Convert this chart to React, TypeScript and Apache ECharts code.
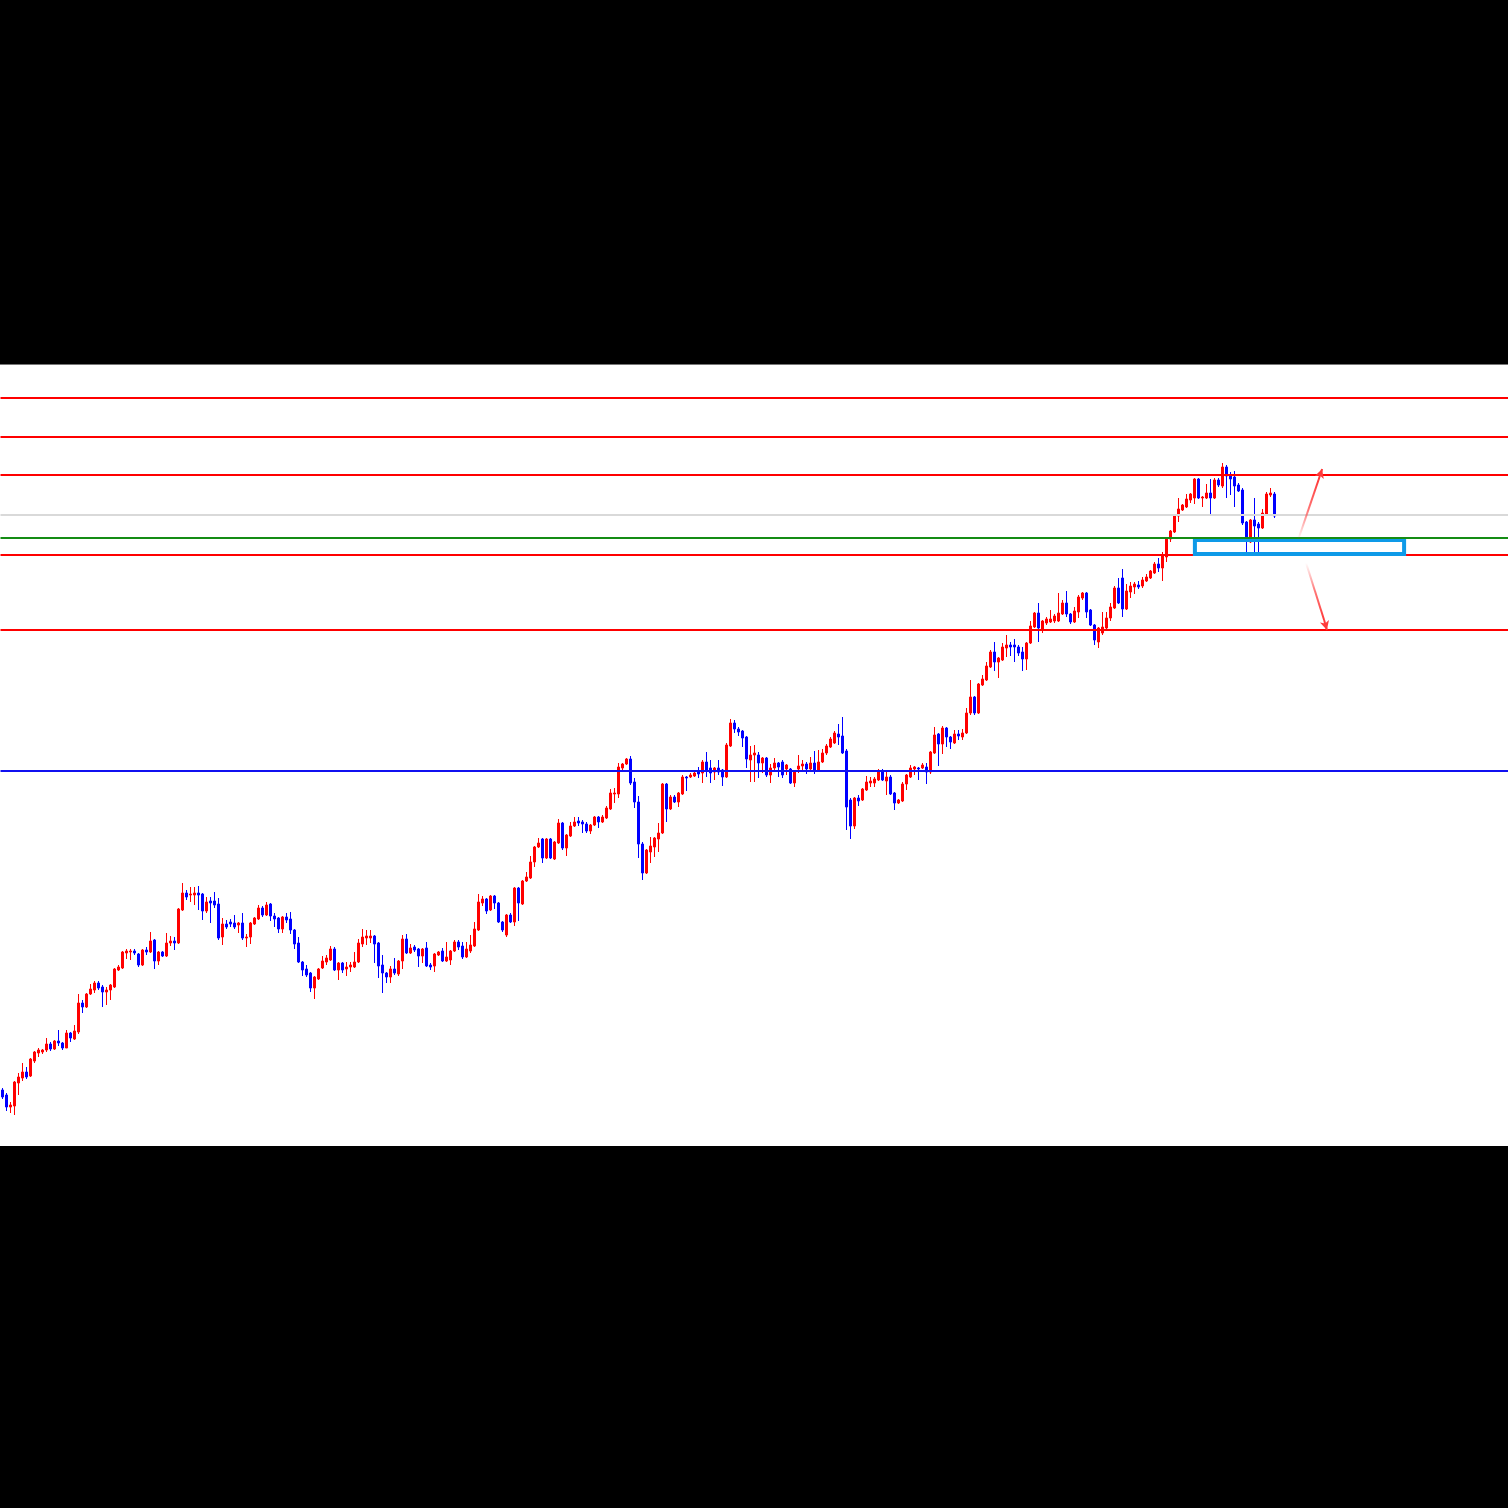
import React, { useEffect, useRef } from "react";
import * as echarts from "echarts";

// [open, close, low, high]
const ohlc: number[][] = [
  [110,103,101,112],[105,93,89,107],[93,95,87,98],[94,118,85,119],[117,123,105,127],[122,128,119,137],[128,123,121,133],[124,141,123,142],[139,148,137,149],[147,150,143,152],
  [148,150,146,151],[150,156,148,162],[156,151,149,158],[151,159,150,160],[159,157,154,170],[157,152,150,158],[152,167,152,170],[167,162,158,168],[161,169,160,175],[168,197,166,206],
  [197,193,187,200],[193,206,192,207],[206,211,205,216],[210,217,207,219],[217,212,210,219],[213,208,193,215],[208,210,195,213],[210,215,200,216],[213,231,212,232],[230,233,229,235],
  [232,248,231,249],[247,249,241,251],[248,249,240,251],[249,247,245,251],[246,235,233,247],[235,250,234,251],[250,248,245,253],[248,259,247,268],[260,239,231,261],[239,248,235,249],
  [248,244,243,249],[244,257,243,267],[257,259,254,264],[259,257,250,263],[257,291,256,292],[290,307,289,317],[307,303,300,310],[305,306,298,313],[305,307,295,313],[307,305,290,314],
  [306,289,280,307],[289,298,287,303],[299,297,277,303],[299,295,292,308],[296,262,260,302],[263,276,255,282],[276,273,271,280],[278,276,273,281],[277,273,271,285],[275,277,267,278],
  [277,262,260,287],[262,263,253,266],[263,277,256,278],[276,282,275,283],[281,292,280,295],[292,285,283,294],[285,295,284,298],[296,284,279,297],[284,281,273,287],[282,271,267,283],
  [271,283,267,284],[283,280,277,287],[281,270,266,288],[270,256,251,271],[257,238,237,263],[238,230,224,239],[231,225,223,235],[227,212,208,228],[212,223,201,224],[221,231,220,232],
  [232,239,231,244],[238,242,235,245],[240,251,239,254],[251,230,229,253],[230,237,220,238],[237,230,227,238],[231,233,224,238],[233,235,228,238],[233,238,232,248],[238,257,237,261],
  [256,263,253,271],[262,264,255,270],[262,264,257,270],[264,256,237,265],[257,234,222,258],[235,227,207,245],[227,223,217,228],[223,231,217,234],[231,227,225,242],[226,239,224,240],
  [239,261,231,265],[261,247,246,266],[247,252,246,256],[253,250,248,255],[251,244,233,252],[244,251,237,252],[252,234,233,258],[235,233,230,237],[234,246,228,247],[245,248,244,249],
  [249,239,238,252],[239,243,238,258],[240,249,235,250],[249,258,248,260],[258,253,250,260],[254,243,241,258],[243,251,242,258],[249,255,247,265],[254,271,253,278],[270,298,269,306],
  [297,301,294,304],[301,289,286,302],[290,304,289,305],[304,297,291,305],[297,278,277,298],[278,270,268,279],[265,285,263,286],[285,278,277,287],[278,312,274,313],[312,297,279,313],
  [296,319,295,320],[319,323,318,328],[322,338,321,344],[338,353,333,354],[353,357,352,362],[361,342,337,362],[342,361,341,362],[361,342,341,362],[341,358,340,359],[357,377,356,381],
  [377,352,350,378],[352,365,344,366],[364,374,363,378],[374,378,373,383],[379,377,374,383],[378,376,367,380],[376,369,367,378],[369,375,366,376],[375,383,374,384],[383,378,372,384],
  [378,383,377,385],[382,392,381,394],[391,407,390,411],[406,407,397,412],[406,433,402,437],[432,436,428,437],[436,441,435,442],[441,417,415,444],[418,398,392,422],[398,356,342,404],
  [356,327,320,358],[327,350,326,351],[348,354,337,363],[353,362,343,363],[361,367,348,377],[367,416,366,417],[416,391,378,417],[391,403,390,405],[403,398,397,405],[398,407,393,408],
  [406,423,405,425],[423,422,409,424],[423,425,422,427],[424,427,423,428],[429,426,422,433],[427,438,417,440],[438,429,423,448],[432,427,417,440],[428,432,420,433],[432,428,425,440],
  [430,423,414,431],[423,455,422,457],[454,477,453,481],[477,471,467,480],[471,468,464,473],[469,462,453,470],[463,441,432,464],[440,445,418,454],[445,447,418,455],[445,437,422,448],
  [437,442,427,443],[442,425,423,443],[425,432,417,436],[432,437,428,442],[437,433,423,438],[438,425,422,440],[431,435,425,436],[431,417,416,432],[417,428,413,429],[431,434,427,445],
  [434,436,428,440],[436,431,426,438],[431,437,428,443],[437,429,426,449],[429,438,428,450],[438,447,437,451],[447,454,445,456],[453,461,452,463],[457,467,456,469],[466,463,455,476],
  [464,447,446,483],[449,393,370,451],[400,374,361,402],[374,402,371,403],[402,399,394,405],[400,411,399,412],[410,418,409,424],[417,419,413,423],[417,421,413,423],[420,429,419,431],
  [429,420,419,431],[419,423,405,430],[423,406,405,425],[407,397,390,408],[397,400,396,401],[399,416,398,418],[416,425,410,426],[423,432,422,435],[431,433,425,434],[432,431,420,433],
  [432,435,431,437],[433,428,416,437],[428,448,426,449],[447,465,446,473],[466,456,434,467],[456,472,446,474],[472,463,453,473],[463,458,451,464],[457,466,456,470],[466,464,460,470],
  [463,467,460,471],[467,487,466,492],[487,503,485,520],[503,487,485,504],[487,516,486,517],[515,521,514,525],[520,534,519,538],[533,548,532,550],[548,538,529,558],[538,542,522,543],
  [540,553,539,557],[552,555,543,565],[555,553,544,558],[555,553,538,561],[553,547,544,555],[548,541,529,553],[541,557,530,558],[557,574,556,579],[573,587,572,588],[587,572,558,597],
  [571,579,567,580],[577,581,575,583],[578,581,577,590],[579,584,577,586],[579,587,578,607],[586,597,585,600],[597,586,583,609],[586,578,576,587],[578,589,577,593],[588,603,582,605],
  [602,607,600,608],[607,588,582,608],[590,575,574,591],[575,560,555,576],[558,572,552,573],[567,573,565,588],[572,582,571,588],[582,593,579,597],[592,612,591,614],[612,597,596,622],
  [622,591,583,631],[591,609,590,616],[608,614,602,618],[613,616,606,618],[615,613,611,619],[614,620,612,623],[619,623,618,626],[622,629,621,630],[627,636,626,638],[636,632,628,642],
  [632,645,619,648],[643,661,638,662],[661,669,658,670],[668,685,667,686],[684,691,678,702],[690,695,689,696],[693,701,692,706],[700,706,697,707],[702,721,696,722],[721,702,701,722],
  [702,703,693,704],[702,707,701,716],[707,702,685,721],[702,720,701,722],[720,715,713,722],[714,733,712,737],[733,724,702,735],[725,721,705,728],[723,714,693,729],[715,709,708,717],
  [710,677,675,712],[678,661,647,679],[658,680,657,681],[680,674,647,702],[676,672,647,678],[672,687,671,691],[686,706,686,708],[705,707,703,712],[706,684,682,708],
];

const slotCount = 377;
const categories = Array.from({ length: slotCount }, (_, i) => String(i + 1));
const yRange = [54, 835];

const redLevels = [802, 763, 725, 645, 570];
const grayLevel = 685;
const greenLevel = 662;
const blueLevel = 429;

// zone box corners on the slot axis
const zoneBox = [[298.6, 660], [350.9, 646]];
// arrows: start, fade end, tip
const arrowUp = [[324.4, 660], [329.5, 720], [330.4, 731]];
const arrowDown = [[326.4, 637], [330.9, 580], [331.6, 570]];

const RED = "#ff0000";
const BLUE = "#0000ff";
const ARROW = "#ff3a3a";

function solid(color: string, width = 2) {
  return { color, width, type: "solid" as const };
}

export default function App() {
  const ref = useRef<HTMLDivElement>(null);

  useEffect(() => {
    document.body.style.margin = "0";
    const chart = echarts.init(ref.current!, undefined, { renderer: "svg" });

    const fadeUp = new echarts.graphic.LinearGradient(0, 1, 0, 0, [
      { offset: 0, color: "rgba(255,58,58,0)" },
      { offset: 0.5, color: "rgba(255,58,58,0.7)" },
      { offset: 1, color: ARROW },
    ]);
    const fadeDown = new echarts.graphic.LinearGradient(0, 0, 0, 1, [
      { offset: 0, color: "rgba(255,58,58,0)" },
      { offset: 0.5, color: "rgba(255,58,58,0.7)" },
      { offset: 1, color: ARROW },
    ]);

    chart.setOption({
      animation: false,
      backgroundColor: "#ffffff",
      grid: { left: 0.5, right: 0.5, top: 0, bottom: 0 },
      xAxis: [
        { type: "category", data: categories, boundaryGap: true, show: false },
        { type: "value", min: 0, max: slotCount, show: false },
      ],
      yAxis: { type: "value", min: yRange[0], max: yRange[1], show: false, splitLine: { show: false } },
      series: [
        {
          type: "candlestick",
          data: ohlc,
          barWidth: 2,
          itemStyle: {
            color: RED,
            color0: BLUE,
            borderColor: RED,
            borderColor0: BLUE,
            borderWidth: 1,
          },
          markLine: {
            silent: true,
            animation: false,
            symbol: ["none", "none"],
            label: { show: false },
            data: [
              ...redLevels.map((v) => ({ yAxis: v, lineStyle: solid(RED) })),
              { yAxis: grayLevel, lineStyle: solid("#d9d9d9") },
              { yAxis: blueLevel, lineStyle: solid("#1010f0") },
            ],
          },
        },
        {
          type: "line",
          xAxisIndex: 1,
          yAxisIndex: 0,
          data: [[0, yRange[0]]],
          showSymbol: false,
          lineStyle: { opacity: 0 },
          markArea: {
            silent: true,
            z: 6,
            itemStyle: { color: "rgba(0,0,0,0)", borderColor: "#0e9ae8", borderWidth: 4 },
            data: [[{ coord: zoneBox[0] }, { coord: zoneBox[1] }]],
          },
          markLine: {
            silent: true,
            z: 7,
            animation: false,
            symbol: ["none", "none"],
            label: { show: false },
            data: [{ yAxis: greenLevel, lineStyle: solid("#148c14") }],
          },
        },
        {
          type: "line",
          xAxisIndex: 1,
          yAxisIndex: 0,
          data: [[0, yRange[0]]],
          showSymbol: false,
          lineStyle: { opacity: 0 },
          markLine: {
            silent: true,
            z: 8,
            animation: false,
            symbol: ["none", "arrow"],
            symbolSize: [7, 9],
            label: { show: false },
            data: [
              [
                { coord: arrowUp[0], symbol: "none", lineStyle: { color: fadeUp, width: 2, type: "solid" } },
                { coord: arrowUp[1], symbol: "none" },
              ],
              [
                { coord: arrowUp[1], symbol: "none", lineStyle: solid(ARROW) },
                { coord: arrowUp[2], symbol: "arrow" },
              ],
              [
                { coord: arrowDown[0], symbol: "none", lineStyle: { color: fadeDown, width: 2, type: "solid" } },
                { coord: arrowDown[1], symbol: "none" },
              ],
              [
                { coord: arrowDown[1], symbol: "none", lineStyle: solid(ARROW) },
                { coord: arrowDown[2], symbol: "arrow" },
              ],
            ],
          },
        },
      ],
    });

    return () => chart.dispose();
  }, []);

  return (
    <div style={{ position: "fixed", left: 0, top: 0, width: 1508, height: 1508, background: "#000", overflow: "hidden" }}>
      <div style={{ position: "absolute", left: 0, top: 364, width: 1508, height: 1, background: "#777" }} />
      <div ref={ref} style={{ position: "absolute", left: 0, top: 365, width: 1509, height: 781 }} />
    </div>
  );
}
